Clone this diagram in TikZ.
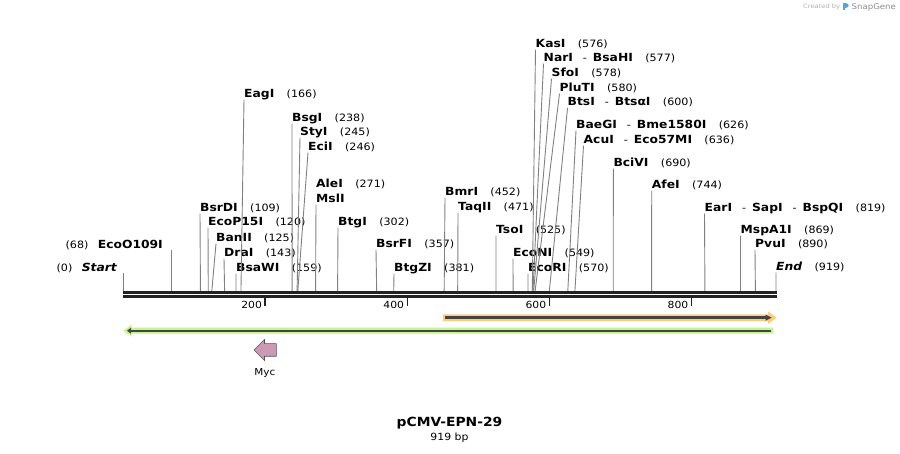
\documentclass[tikz,border=0pt]{standalone}
\usepackage{fontspec}
\setmainfont[FakeStretch=1.1]{DejaVu Sans}
\definecolor{bbone}{HTML}{222222}
\definecolor{siteln}{HTML}{808080}
\definecolor{orfill}{HTML}{FFCC7A}
\definecolor{grfill}{HTML}{C2F58C}
\definecolor{featln}{HTML}{444444}
\definecolor{mycfill}{HTML}{CC9AB5}
\definecolor{mycdraw}{HTML}{555555}
\definecolor{sglogo}{HTML}{4DA6E0}
\tikzset{
  lbl/.style={inner sep=0pt, text height=8.2pt, text depth=2.4pt, font=\fontsize{11.2}{13}\selectfont\bfseries},
  num/.style={inner sep=0pt, font=\fontsize{10.1}{12}\selectfont},
  siteline/.style={draw=siteln, line width=0.9pt},
  backbone/.style={draw=bbone, line width=2.7pt},
  tickln/.style={draw=bbone, line width=1.4pt},
  ticklbl/.style={inner sep=0pt, font=\fontsize{9.8}{11}\selectfont},
}
\newcommand\dsep{\hspace{10pt}{\mdseries\fontsize{10.1}{12}\selectfont -}\hspace{6pt}}
\newcommand\rsite[5]{%
  \node[lbl, anchor=base west] (n#1) at (#2,{#3+4.1}) {#4};
  \node[num, anchor=base west] (p#1) at ([xshift=12pt]n#1.base east) {(#5)};
  \coordinate (s#1) at ({123+#5*0.71055},291);
  \draw[siteline] (n#1.south west) -- (s#1);
}
\begin{document}
\begin{tikzpicture}[x=1pt,y=-1pt]
\useasboundingbox (0,0) rectangle (900,454);
\fill[white] (0,0) rectangle (900,454);

% left-side labels
\node[lbl, anchor=base east] (nstart) at (117,{267+4.1}) {\itshape Start};
\node[num, anchor=base east] (pstart) at ([xshift=-9pt]nstart.base west) {(0)};
\coordinate (tstart) at (123,273);
\coordinate (sstart) at (123,291);
\draw[siteline] (tstart) -- (sstart);

\node[lbl, anchor=base east] (neco) at (163,{244+4.1}) {EcoO109I};
\node[num, anchor=base east] (peco) at ([xshift=-9pt]neco.base west) {(68)};
\coordinate (teco) at ({123+68*0.71055},250);
\coordinate (seco) at ({123+68*0.71055},291);
\draw[siteline] (teco) -- (seco);

% sites
\rsite{bsrdi}{200}{207}{BsrDI}{109}
\rsite{ecop}{208}{221}{EcoP15I}{120}
\rsite{banii}{216}{237}{BanII}{125}
\rsite{drai}{224}{252}{DraI}{143}
\rsite{bsawi}{236}{267}{BsaWI}{159}
\rsite{eagi}{244}{93}{EagI}{166}
\rsite{bsgi}{292}{117}{BsgI}{238}
\rsite{styi}{300}{131}{StyI}{245}
\rsite{ecii}{308}{146}{EciI}{246}

\node[lbl, anchor=base west] (nalei) at (316,{183+4.1}) {AleI};
\node[num, anchor=base west] (palei) at ([xshift=12pt]nalei.base east) {(271)};
\node[lbl, anchor=base west] (nmsli) at (316,{198+4.1}) {MslI};
\coordinate (salei) at ({123+271*0.71055},291);
\draw[siteline] (nmsli.south west) -- (salei);

\rsite{btgi}{338}{221}{BtgI}{302}
\rsite{bsrfi}{376}{243}{BsrFI}{357}
\rsite{btgzi}{394}{267}{BtgZI}{381}
\rsite{bmri}{445}{191}{BmrI}{452}
\rsite{taqii}{458}{206}{TaqII}{471}
\rsite{tsoi}{496}{229}{TsoI}{525}
\rsite{econi}{513}{252}{EcoNI}{549}
\rsite{ecori}{528}{267}{EcoRI}{570}
\rsite{kasi}{535.5}{43}{KasI}{576}
\rsite{nari}{543.5}{57}{NarI\dsep BsaHI}{577}
\rsite{sfoi}{551.5}{72}{SfoI}{578}
\rsite{pluti}{559.5}{87}{PluTI}{580}
\rsite{btsi}{567.5}{101.5}{BtsI\dsep BtsαI}{600}
\rsite{baegi}{576}{124}{BaeGI\dsep Bme1580I}{626}
\rsite{acui}{583.5}{139}{AcuI\dsep Eco57MI}{636}
\rsite{bcivi}{613.3}{162}{BciVI}{690}
\rsite{afei}{651.7}{184}{AfeI}{744}
\rsite{eari}{704.5}{207}{EarI\dsep SapI\dsep BspQI}{819}
\rsite{mspa}{740.5}{229}{MspA1I}{869}
\rsite{pvui}{755}{243.5}{PvuI}{890}
\rsite{endd}{776}{266}{\itshape End}{919}

% backbone
\draw[backbone] (123,292.3) -- (777,292.3);
\draw[backbone] (123,296.3) -- (777,296.3);

% ticks
\foreach \t in {200,400,600,800}{
  \coordinate (tk\t) at ({123+\t*0.71055},297.7);
  \draw[tickln] (tk\t) -- ++(0,8);
  \node[ticklbl, anchor=east] (tl\t) at ([xshift=-3pt]{123+\t*0.71055},305) {\t};
}

% orange feature
\fill[orfill] (443,314.3) -- (768,314.3) -- (768,311.5) -- (776.5,317.7) -- (768,323.9) -- (768,321.1) -- (443,321.1) -- cycle;
\draw[featln, line width=2.7pt] (445,317.7) -- (767,317.7);
\fill[featln] (765.5,314.6) -- (771.7,317.7) -- (765.5,320.8) -- cycle;

% green feature
\fill[grfill] (131.5,327.7) -- (773,327.7) -- (773,333.7) -- (131.5,333.7) -- (131.5,336.7) -- (123.5,330.7) -- (131.5,324.7) -- cycle;
\draw[featln, line width=2pt] (129,330.7) -- (770.7,330.7);
\fill[featln] (131,327.7) -- (127,330.7) -- (131,333.7) -- cycle;

% Myc
\draw[fill=mycfill, draw=mycdraw, line width=0.6pt, line join=miter]
  (254,350) -- (264.5,339.5) -- (264.5,343.7) -- (276.3,343.7) -- (276.3,356.3) -- (264.5,356.3) -- (264.5,360.5) -- cycle;
\node[inner sep=0pt, font=\fontsize{9.5}{11}\selectfont] (myc) at (264.8,373.5) {Myc};

% title
\node[inner sep=0pt, font=\fontsize{12.6}{15}\selectfont\bfseries] (title) at (449.5,423) {pCMV-EPN-29};
\node[inner sep=0pt, font=\fontsize{9.9}{12}\selectfont] (len) at (449.5,438) {919 bp};

% watermark
\node[inner sep=0pt, anchor=west, text=black!30, font=\fontsize{6.1}{7}\selectfont] (cby) at (803,7) {Created by};
\fill[sglogo] (843,2.8) rectangle (845.2,10.5);
\fill[sglogo] (845.2,2.8) .. controls (849.5,2.8) and (849.5,7.8) .. (845.2,7.8) -- cycle;
\node[inner sep=0pt, anchor=west, text=black!45, font=\fontsize{7.8}{9}\selectfont] (sg) at (851.5,7) {SnapGene};
\end{tikzpicture}
\end{document}
